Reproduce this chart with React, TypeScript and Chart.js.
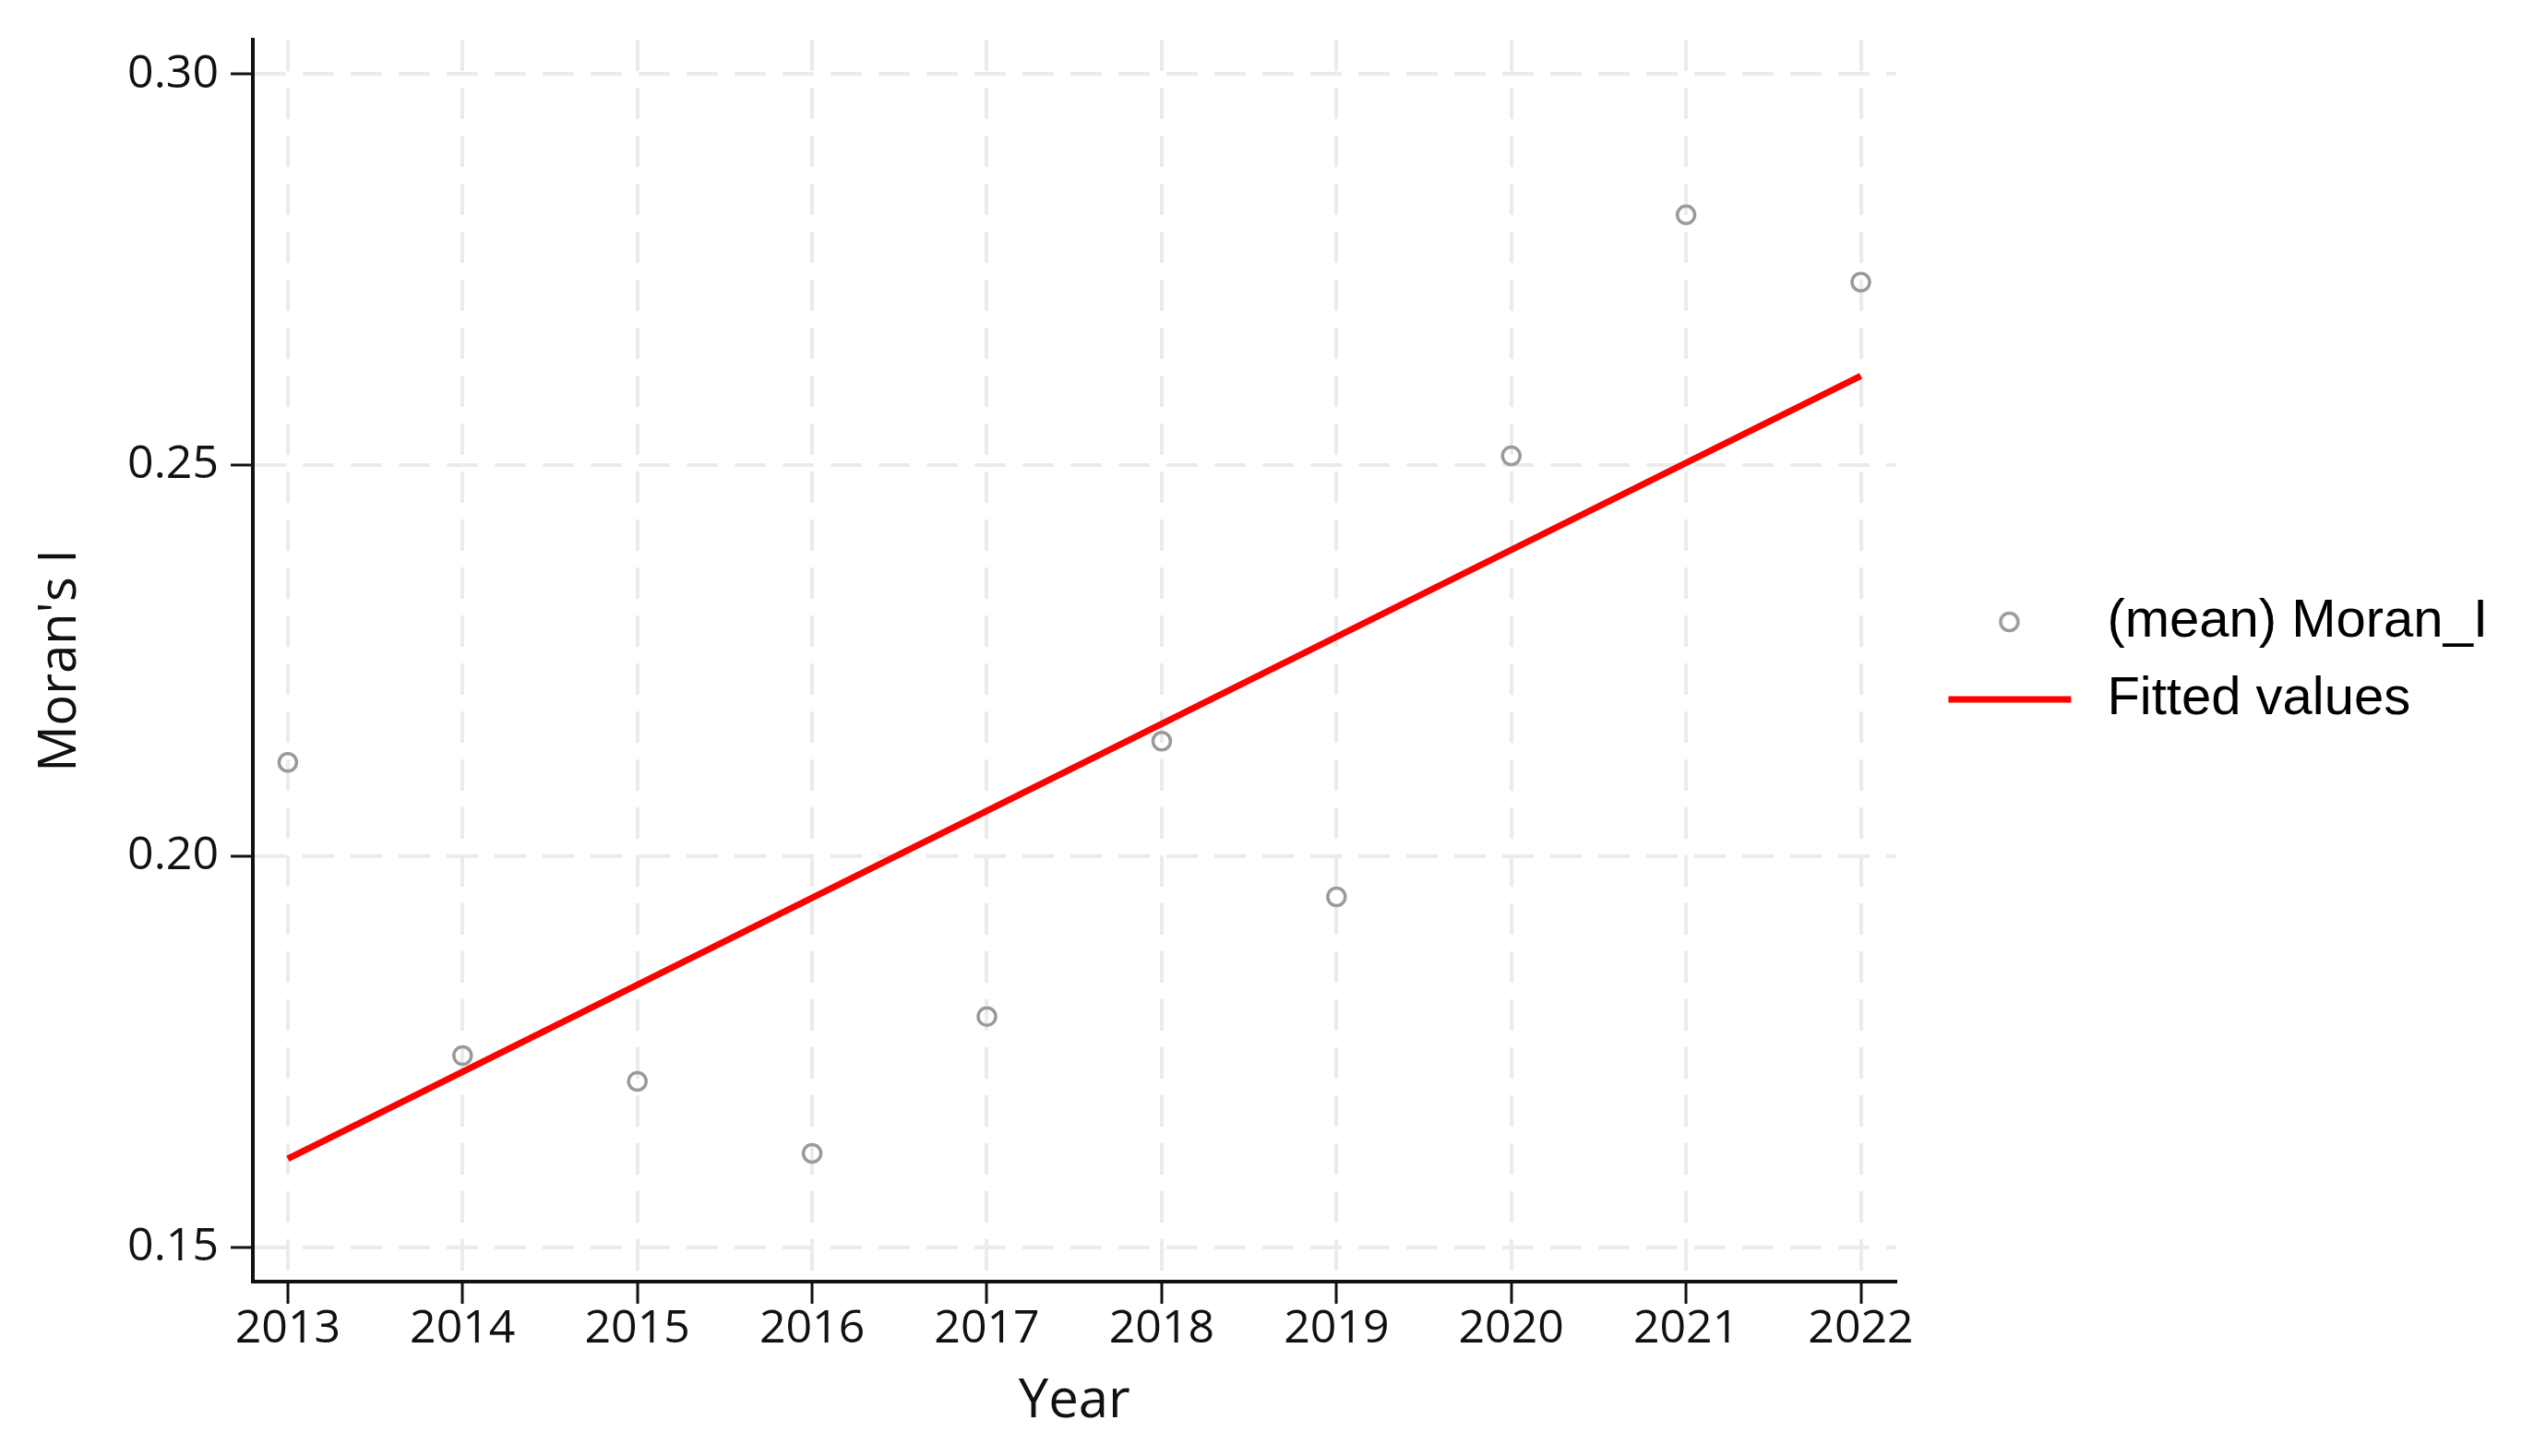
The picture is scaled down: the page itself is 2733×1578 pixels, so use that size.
import { useEffect, useRef } from 'react';
import { Chart, registerables } from 'chart.js';

Chart.register(...registerables);

const years = [2013, 2014, 2015, 2016, 2017, 2018, 2019, 2020, 2021, 2022];
const moranI = [0.212, 0.1745, 0.1712, 0.162, 0.1795, 0.2147, 0.1948, 0.2512, 0.282, 0.2734];
const fitYears = [2013, 2022];
const fittedValues = [0.1613, 0.2614];
const yTicks = [0.15, 0.2, 0.25, 0.3];
const seriesLabels = ['(mean) Moran_I', 'Fitted values'];

const GRAY = '#9a9a9a';
const RED = '#ff0000';
const GRID = '#ebebeb';

// legend markers as small images so the circle and the line can share one box
function markerCanvas(kind: 'circle' | 'line') {
  const c = document.createElement('canvas');
  c.width = 174;
  c.height = 26;
  const g = c.getContext('2d')!;
  if (kind === 'circle') {
    g.strokeStyle = GRAY;
    g.lineWidth = 3.5;
    g.beginPath();
    g.arc(97, 13, 9.5, 0, Math.PI * 2);
    g.stroke();
  } else {
    g.strokeStyle = RED;
    g.lineWidth = 7;
    g.beginPath();
    g.moveTo(31, 13);
    g.lineTo(164, 13);
    g.stroke();
  }
  return c;
}

export default function App() {
  const canvasRef = useRef<HTMLCanvasElement>(null);
  const chartRef = useRef<Chart | null>(null);

  useEffect(() => {
    if (!canvasRef.current) return;
    if (chartRef.current) chartRef.current.destroy();

    const circleImg = markerCanvas('circle');
    const lineImg = markerCanvas('line');

    chartRef.current = new Chart(canvasRef.current, {
      type: 'scatter',
      data: {
        datasets: [
          {
            label: seriesLabels[0],
            data: years.map((x, i) => ({ x, y: moranI[i] })),
            showLine: false,
            pointStyle: 'circle',
            pointRadius: 9.5,
            pointBorderWidth: 3.5,
            pointBorderColor: GRAY,
            pointBackgroundColor: 'rgba(0,0,0,0)',
            order: 1
          },
          {
            label: seriesLabels[1],
            data: fitYears.map((x, i) => ({ x, y: fittedValues[i] })),
            showLine: true,
            borderColor: RED,
            borderWidth: 7,
            pointRadius: 0,
            order: 0
          }
        ]
      },
      options: {
        animation: false,
        responsive: true,
        maintainAspectRatio: false,
        layout: { padding: { top: 43, left: 0, bottom: 0, right: 27 } },
        scales: {
          x: {
            type: 'linear',
            min: 2012.8,
            max: 2022.2,
            afterBuildTicks: (scale: any) => {
              scale.ticks = years.map(v => ({ value: v }));
            },
            afterFit: (scale: any) => {
              scale.height = 189;
            },
            ticks: {
              padding: 3,
              color: '#111',
              font: { family: 'Open Sans', size: 50, lineHeight: 1 },
              callback: (v: any) => String(v)
            },
            grid: {
              color: GRID,
              lineWidth: 4,
              tickLength: 24,
              tickColor: '#111',
              tickWidth: 3
            },
            border: { display: true, color: '#111', width: 4, dash: [34, 18] },
            title: {
              display: true,
              text: 'Year',
              color: '#111',
              font: { family: 'Open Sans', size: 58 },
              padding: { top: 0, bottom: 24 }
            }
          },
          y: {
            type: 'linear',
            min: 0.1456,
            max: 0.3044,
            afterBuildTicks: (scale: any) => {
              scale.ticks = yTicks.map(v => ({ value: v }));
            },
            afterFit: (scale: any) => {
              scale.width = 274;
            },
            ticks: {
              padding: 13,
              color: '#111',
              font: { family: 'Open Sans', size: 50 },
              callback: (v: any) => Number(v).toFixed(2)
            },
            grid: {
              color: GRID,
              lineWidth: 4,
              tickLength: 24,
              tickColor: '#111',
              tickWidth: 3
            },
            border: { display: true, color: '#111', width: 4, dash: [34, 18] },
            title: {
              display: true,
              text: "Moran's I",
              color: '#111',
              font: { family: 'Open Sans', size: 56 },
              padding: { top: 32, bottom: 0 }
            }
          }
        },
        plugins: {
          tooltip: { enabled: false },
          legend: {
            position: 'right',
            fullSize: false,
            labels: {
              usePointStyle: true,
              pointStyleWidth: 174,
              boxHeight: 20,
              padding: 26,
              color: '#000',
              font: { family: 'Liberation Sans', size: 58 },
              generateLabels: () => [
                {
                  text: seriesLabels[0],
                  pointStyle: circleImg,
                  fillStyle: 'rgba(0,0,0,0)',
                  strokeStyle: GRAY,
                  lineWidth: 0,
                  hidden: false,
                  datasetIndex: 0
                },
                {
                  text: seriesLabels[1],
                  pointStyle: lineImg,
                  fillStyle: RED,
                  strokeStyle: RED,
                  lineWidth: 0,
                  hidden: false,
                  datasetIndex: 1
                }
              ]
            }
          }
        }
      } as any
    });

    return () => {
      if (chartRef.current) {
        chartRef.current.destroy();
        chartRef.current = null;
      }
    };
  }, []);

  return (
    <div style={{ position: 'fixed', left: 0, top: 0, width: 2733, height: 1578, background: '#fff' }}>
      <canvas ref={canvasRef} />
    </div>
  );
}
